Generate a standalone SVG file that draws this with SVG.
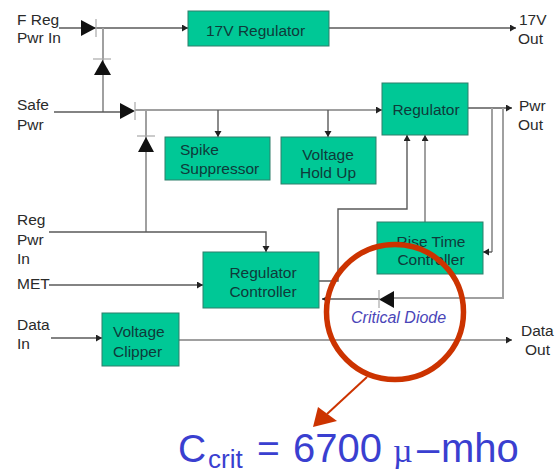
<svg xmlns="http://www.w3.org/2000/svg" width="555" height="474" viewBox="0 0 555 474">
<defs>
<style>
.box{fill:#00c896;stroke:#2f7f6a;stroke-width:1}
.t{font-family:"Liberation Sans",Arial,sans-serif;font-size:15.500px;fill:#2a2a2a}
.b{font-family:"Liberation Sans",Arial,sans-serif;font-size:15.500px;fill:#0f3a3a}
.l{fill:none;stroke:#5a5a5a;stroke-width:1.4}
.g{fill:none;stroke:#a0a0a0;stroke-width:2}
.big{font-family:"Liberation Sans",sans-serif;fill:#3a3fd0}
.bar{stroke:#a8a8a8;stroke-width:1.2;fill:none}
</style>
<marker id="a" markerUnits="userSpaceOnUse" markerWidth="8" markerHeight="8" refX="6" refY="3.5" orient="auto"><path d="M0 0L6 3.5L0 7z" fill="#222"/></marker>
</defs>
<rect width="555" height="474" fill="#fff"/>
<g id="connectors">
<path class="l" d="M59 28H188" marker-end="url(#a)"/>
<path class="g" d="M103 28V112"/>
<path class="l" d="M54 112H120"/>
<path class="g" d="M135 110H382" marker-end="url(#a)"/>
<path class="g" d="M146 110V232"/>
<path class="l" d="M218 110V137" marker-end="url(#a)"/>
<path class="l" d="M328 110V137" marker-end="url(#a)"/>
<path class="l" d="M329 28H516" marker-end="url(#a)"/>
<path class="l" d="M468 108H512" marker-end="url(#a)"/>
<path class="g" d="M492 108V252"/><path class="l" d="M492 252H483" marker-end="url(#a)"/>
<path class="g" d="M503 108V298H394"/>
<path class="l" d="M380 299H322" marker-end="url(#a)"/>
<path class="l" d="M319 281H338V209H407V135" marker-end="url(#a)"/>
<path class="g" d="M425 222V135" marker-end="url(#a)"/>
<path class="l" d="M49 232H266V252" marker-end="url(#a)"/>
<path class="l" d="M49 285H203" marker-end="url(#a)"/>
<path class="l" d="M51 338H102" marker-end="url(#a)"/>
<path class="g" d="M179 340H512" marker-end="url(#a)"/>
</g>
<g id="diode-1"><path d="M81 20L96 28L81 36z" fill="#111"/><path class="bar" d="M96 19V37"/></g>
<g id="diode-2"><path d="M94 75L102.500 60L111 75z" fill="#111"/><path class="bar" d="M93 59H111"/></g>
<g id="diode-3"><path d="M120 103L135 111L120 119z" fill="#111"/><path class="bar" d="M135 102V120"/></g>
<g id="diode-4"><path d="M138 152L146 137L154 152z" fill="#111"/><path class="bar" d="M137 136H155"/></g>
<g id="diode-critical"><path d="M394 291L379 299.500L394 308z" fill="#111"/><path class="bar" d="M379 290V308"/></g>
<g id="n-17v"><rect class="box" x="188" y="11" width="141" height="35"/><text class="b" x="206" y="36">17V Regulator</text></g>
<g id="n-spike"><rect class="box" x="165" y="137" width="105" height="43"/><text class="b" x="180" y="155">Spike</text><text class="b" x="180" y="174">Suppressor</text></g>
<g id="n-hold"><rect class="box" x="281" y="137" width="95" height="47"/><text class="b" x="328" y="160" text-anchor="middle">Voltage</text><text class="b" x="328" y="178" text-anchor="middle">Hold Up</text></g>
<g id="n-reg"><rect class="box" x="382" y="83" width="86" height="52"/><text class="b" x="426" y="115" text-anchor="middle">Regulator</text></g>
<g id="n-rise"><rect class="box" x="377" y="222" width="106" height="52"/><text class="b" x="431" y="247" text-anchor="middle">Rise Time</text><text class="b" x="431" y="265" text-anchor="middle">Controller</text></g>
<g id="n-regc"><rect class="box" x="203" y="252" width="116" height="56"/><text class="b" x="263" y="278" text-anchor="middle">Regulator</text><text class="b" x="263" y="297" text-anchor="middle">Controller</text></g>
<g id="n-clip"><rect class="box" x="102" y="313" width="77" height="53"/><text class="b" x="113" y="337">Voltage</text><text class="b" x="113" y="357">Clipper</text></g>
<g id="labels">
<text class="t" x="17" y="25">F Reg</text><text class="t" x="17" y="43">Pwr In</text>
<text class="t" x="17" y="110">Safe</text><text class="t" x="17" y="130">Pwr</text>
<text class="t" x="17" y="225">Reg</text><text class="t" x="17" y="245">Pwr</text><text class="t" x="17" y="264">In</text>
<text class="t" x="17" y="289">MET</text>
<text class="t" x="17" y="330">Data</text><text class="t" x="17" y="349">In</text>
<text class="t" x="519" y="25">17V</text><text class="t" x="518" y="44">Out</text>
<text class="t" x="519" y="111">Pwr</text><text class="t" x="518" y="130">Out</text>
<text class="t" x="521" y="336">Data</text><text class="t" x="525" y="355">Out</text>
</g>
<text x="351" y="323" font-family="'Liberation Sans',Arial,sans-serif" font-size="16" font-style="italic" fill="#4a45b8">Critical Diode</text>
<g id="callout">
<ellipse cx="395" cy="312" rx="68.500" ry="67.500" fill="none" stroke="#cc3300" stroke-width="5.500"/>
<path d="M367 377L327 414" stroke="#cc3300" stroke-width="2" fill="none"/>
<path d="M313 427L318 407L337 421z" fill="#cc3300"/>
</g>
<text class="big" x="178" y="462" font-size="39">C</text>
<text class="big" x="208" y="468" font-size="26">crit</text>
<text class="big" x="257" y="462" font-size="39">=</text>
<text class="big" x="293" y="462" font-size="40">6700</text>
<text class="big" x="393" y="462" font-size="34" style="font-family:'Liberation Serif',serif">µ</text>
<text class="big" x="417" y="462" font-size="40">–</text>
<text class="big" x="441" y="462" font-size="40">mho</text>
</svg>
